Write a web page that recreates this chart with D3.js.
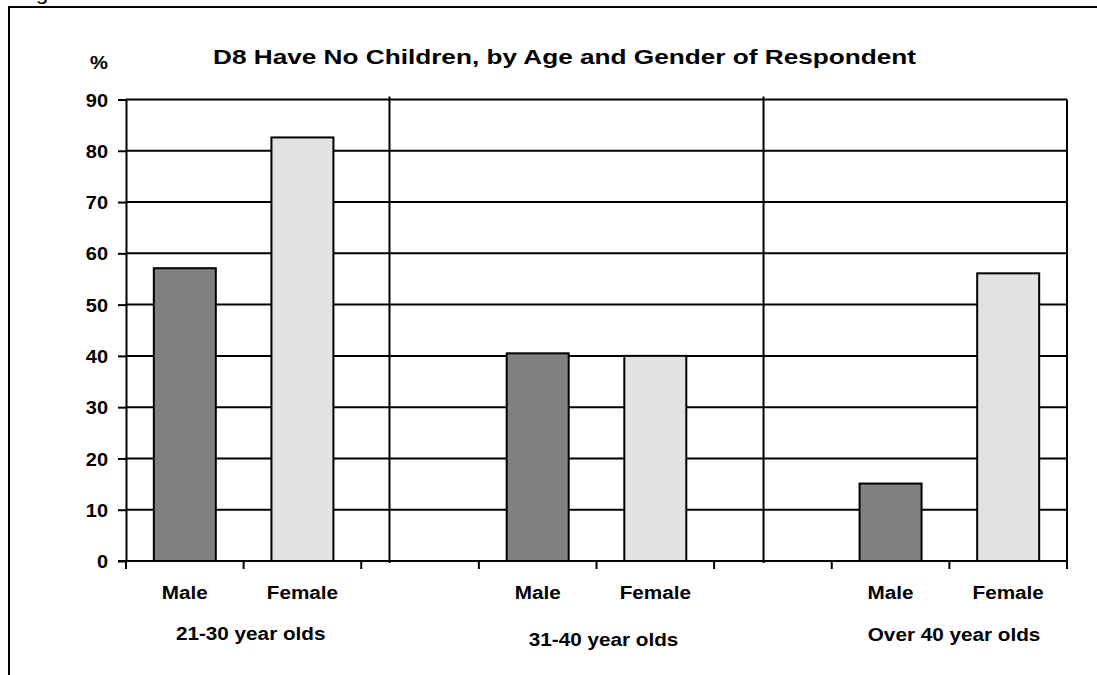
<!DOCTYPE html>
<html>
<head>
<meta charset="utf-8">
<script src="https://cdn.jsdelivr.net/npm/d3@7"></script>
<style>
  html, body { margin: 0; padding: 0; background: #fff; overflow: hidden; }
  svg text { font-family: "Liberation Sans", Arial, Helvetica, sans-serif; font-weight: bold; fill: #000; }
</style>
</head>
<body>
<svg id="chart" width="1097" height="675"></svg>
<script>
// ---- data ----
const groups = ["21-30 year olds", "31-40 year olds", "Over 40 year olds"];
const genders = ["Male", "Female"];
const maleValues = [57.1, 40.5, 15.1];
const femaleValues = [82.6, 40.0, 56.1];
const yTicks = [0, 10, 20, 30, 40, 50, 60, 70, 80, 90];
const titleText = "D8 Have No Children, by Age and Gender of Respondent";
const unitText = "%";
const figureText = "Figure 6";

// ---- layout ----
const W = 1097, H = 675;
const plot = { left: 126, right: 1067, top: 99.5, bottom: 561 };
const slotsPerGroup = 3;                       // Male, Female, spacer
const slotCount = groups.length * slotsPerGroup - 1;
const separatorSlots = [2.24, 5.42];           // hand-drawn dividers between age groups
const groupLabelSlots = [1.06, 4.06, 7.04];
const groupLabelBaselines = [639.5, 646, 641];
const labelStretch = 1.12;
const fontSize = 18.5;

const colors = { Male: "#808080", Female: "#e2e2e2" };

const svg = d3.select("#chart");
svg.append("rect").attr("width", W).attr("height", H).attr("fill", "#fff");

// outer frame (continues past the right and bottom edges)
svg.append("rect")
  .attr("x", 9).attr("y", 7)
  .attr("width", W + 20).attr("height", H + 20)
  .attr("fill", "none").attr("stroke", "#000").attr("stroke-width", 2);

// figure caption sitting above the top edge of the page
svg.append("text")
  .attr("transform", `translate(17,-0.5) scale(${labelStretch},1)`)
  .style("font-weight", "normal").style("font-size", "20px")
  .text(figureText);

// ---- scales ----
const y = d3.scaleLinear().domain([0, 90]).range([plot.bottom, plot.top]);
const xSlot = d3.scaleLinear().domain([0, slotCount]).range([plot.left, plot.right]);
const xBand = d3.scaleBand()
  .domain(d3.range(slotCount))
  .range([plot.left, plot.right])
  .paddingInner(0.473)
  .paddingOuter(0.2365);

const bars = groups.flatMap((g, i) => [
  { group: g, gender: genders[0], slot: i * slotsPerGroup, value: maleValues[i] },
  { group: g, gender: genders[1], slot: i * slotsPerGroup + 1, value: femaleValues[i] }
]);

// ---- gridlines ----
svg.append("g").selectAll("line")
  .data(yTicks.filter(t => t > 0))
  .join("line")
  .attr("x1", plot.left).attr("x2", plot.right)
  .attr("y1", d => y(d)).attr("y2", d => y(d))
  .attr("stroke", "#000").attr("stroke-width", 2);

// right edge of plot area
svg.append("line")
  .attr("x1", plot.right).attr("x2", plot.right)
  .attr("y1", y(90)).attr("y2", y(0))
  .attr("stroke", "#000").attr("stroke-width", 2);

// dividers between age groups
svg.append("g").selectAll("line")
  .data(separatorSlots)
  .join("line")
  .attr("x1", d => xSlot(d)).attr("x2", d => xSlot(d))
  .attr("y1", y(90) - 3).attr("y2", y(0) + 2)
  .attr("stroke", "#000").attr("stroke-width", 2);

// ---- bars ----
svg.append("g").selectAll("rect")
  .data(bars)
  .join("rect")
  .attr("x", d => xBand(d.slot))
  .attr("width", xBand.bandwidth())
  .attr("y", d => y(d.value))
  .attr("height", d => y(0) - y(d.value))
  .attr("fill", d => colors[d.gender])
  .attr("stroke", "#000").attr("stroke-width", 2);

// ---- y axis ----
const yAxis = svg.append("g")
  .attr("transform", `translate(${plot.left},0)`)
  .call(d3.axisLeft(y).tickValues(yTicks).tickSize(8).tickSizeOuter(0));
yAxis.select(".domain").attr("stroke", "#000").attr("stroke-width", 2);
yAxis.selectAll(".tick line").attr("stroke", "#000").attr("stroke-width", 2);
yAxis.selectAll(".tick text")
  .attr("x", null).attr("dy", null)
  .attr("transform", `translate(-18,6.6) scale(1.08,1)`)
  .attr("text-anchor", "end")
  .attr("font-family", null).attr("font-size", null)
  .style("font-size", fontSize + "px");

// ---- x axis ----
const xAxis = svg.append("g").attr("transform", `translate(0,${plot.bottom})`);
xAxis.append("line")
  .attr("x1", plot.left - 8).attr("x2", plot.right)
  .attr("stroke", "#000").attr("stroke-width", 2);
xAxis.selectAll("line.tick")
  .data(d3.range(slotCount + 1))
  .join("line")
  .attr("class", "tick")
  .attr("x1", d => xSlot(d)).attr("x2", d => xSlot(d))
  .attr("y1", 0).attr("y2", 8)
  .attr("stroke", "#000").attr("stroke-width", 2);

// gender labels under each bar
svg.append("g").selectAll("text")
  .data(bars)
  .join("text")
  .attr("transform", d => `translate(${xBand(d.slot) + xBand.bandwidth() / 2},599) scale(${labelStretch},1)`)
  .attr("text-anchor", "middle")
  .style("font-size", fontSize + "px")
  .text(d => d.gender);

// age-group labels
svg.append("g").selectAll("text")
  .data(groups)
  .join("text")
  .attr("transform", (d, i) => `translate(${xSlot(groupLabelSlots[i])},${groupLabelBaselines[i]}) scale(${labelStretch},1)`)
  .attr("text-anchor", "middle")
  .style("font-size", fontSize + "px")
  .text(d => d);

// ---- title and unit ----
svg.append("text")
  .attr("x", 213).attr("y", 64)
  .attr("textLength", 703).attr("lengthAdjust", "spacingAndGlyphs")
  .style("font-size", "19.5px")
  .text(titleText);

svg.append("text")
  .attr("transform", `translate(99,69) scale(1.09,1)`)
  .attr("text-anchor", "middle")
  .style("font-size", fontSize + "px")
  .text(unitText);
</script>
</body>
</html>
